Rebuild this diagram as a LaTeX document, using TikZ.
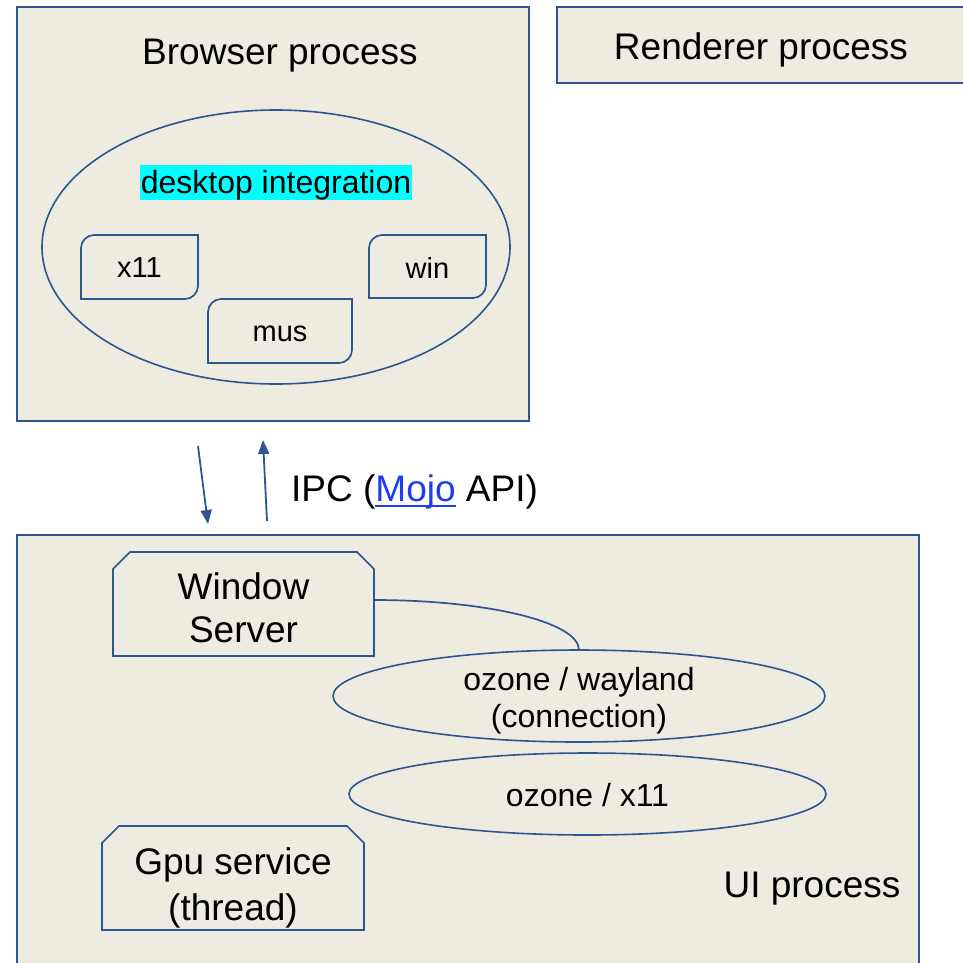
\documentclass[tikz,border=0pt]{standalone}
\usepackage{fontspec}
\setmainfont{Liberation Sans}
\usetikzlibrary{arrows.meta,calc,shapes.geometric}

\definecolor{edge}{HTML}{2E5590}
\definecolor{paper}{HTML}{EEECE1}
\definecolor{linkblue}{HTML}{1E3CF0}
\definecolor{hilite}{HTML}{00FFFF}

\newcommand\fsbig{\fontsize{37}{43}\selectfont}
\newcommand\fsmid{\fontsize{32}{37}\selectfont}
\newcommand\fssmall{\fontsize{29}{34}\selectfont}

% underline that sits just below the baseline, crossing descenders
\newcommand\linkul[1]{\leavevmode\setbox0\hbox{#1}\rlap{\rule[-5pt]{\wd0}{2pt}}\box0}

% rectangle with rounded top-left and bottom-right corners
\newcommand\rdbox[1]{%
  \draw[inner] (#1.south west) -- ($(#1.north west)+(0,13)$)
    .. controls ($(#1.north west)+(0,6)$) and ($(#1.north west)+(6,0)$) .. ($(#1.north west)+(13,0)$)
    -- (#1.north east) -- ($(#1.south east)+(0,-13)$)
    .. controls ($(#1.south east)+(0,-6)$) and ($(#1.south east)+(-6,0)$) .. ($(#1.south east)+(-13,0)$) -- cycle;}

% rectangle with both top corners snipped off
\newcommand\snipbox[1]{%
  \draw[inner] (#1.south west) -- ($(#1.north west)+(0,17)$)
    -- ($(#1.north west)+(17,0)$) -- ($(#1.north east)+(-17,0)$)
    -- ($(#1.north east)+(0,17)$) -- (#1.south east) -- cycle;}

\tikzset{
  procbox/.style={draw=edge, fill=paper, line width=2.6pt, rectangle,
    inner sep=0pt, outer sep=0pt},
  holder/.style={rectangle, fill=paper, inner sep=0pt, outer sep=0pt},
  inner/.style={draw=edge, line width=1.7pt, line join=miter},
  oval/.style={ellipse, draw=edge, line width=1.6pt, inner sep=0pt, outer sep=0pt},
  label/.style={inner sep=0pt, align=center},
  ipc/.style={draw=edge, line width=1.8pt, -{Triangle[length=14pt,width=11pt]}},
  conn/.style={draw=edge, line width=1.7pt},
}

\begin{document}
\begin{tikzpicture}[x=1pt, y=-1pt]
\useasboundingbox (0,0) rectangle (963,962);
\clip (0,0) rectangle (963,962);
\fill[white] (0,0) rectangle (963,962);

% ---------- Browser process ----------
\node[procbox, minimum width=512pt, minimum height=414pt] (browser) at (273,214) {};
\node[label, font=\fsbig] (browsertitle) at (280,56) {Browser process};

\node[oval, minimum width=468pt, minimum height=274pt] (desk) at (276,247) {};
\node[fill=hilite, inner sep=0pt, minimum width=272pt, minimum height=35pt] (desklabel) at (276,182) {};
\node[label, font=\fsmid] (desktext) at ($(desklabel.center)+(0,3)$) {desktop integration};

\node[holder, minimum width=117pt, minimum height=64pt] (x11) at (139.5,267) {};
\rdbox{x11}
\node[label, font=\fssmall] (x11text) at ($(x11.center)+(0,1)$) {x11};
\node[holder, minimum width=144pt, minimum height=64pt] (mus) at (280,331) {};
\rdbox{mus}
\node[label, font=\fssmall] (mustext) at ($(mus.center)+(0,3)$) {mus};
\node[holder, minimum width=117pt, minimum height=63pt] (win) at (427.5,266.5) {};
\rdbox{win}
\node[label, font=\fssmall] (wintext) at ($(win.center)+(0,1)$) {win};

% ---------- Renderer process ----------
\node[procbox, minimum width=410pt, minimum height=76pt] (renderer) at (762,45) {};
\node[label, font=\fsbig] (renderertitle) at (761,50) {Renderer process};

% ---------- UI process ----------
\node[procbox, minimum width=902pt, minimum height=440pt] (ui) at (468,755) {};
\node[label, font=\fsbig] (uititle) at (812,889) {UI process};

\node[holder, minimum width=261pt, minimum height=104pt] (ws) at (243.5,604) {};
\snipbox{ws}
\node[label, font=\fsbig] (wstext) at ($(ws.center)+(0,8.5)$)
  {\begin{tabular}{@{}c@{}}Window\\[0pt]Server\end{tabular}};

\node[holder, minimum width=262pt, minimum height=104pt] (gpu) at (233,878) {};
\snipbox{gpu}
\node[label, font=\fsbig] (gputext) at ($(gpu.center)+(0,11)$)
  {\begin{tabular}{@{}c@{}}Gpu service\\[3pt](thread)\end{tabular}};

\node[oval, fill=paper, minimum width=492pt, minimum height=92pt] (wl) at (579,696) {};
\node[label, font=\fsmid] (wltext) at ($(wl.center)+(0,6)$)
  {\begin{tabular}{@{}c@{}}ozone / wayland\\(connection)\end{tabular}};
\node[oval, fill=paper, minimum width=477pt, minimum height=82pt] (ox) at (587.5,794) {};
\node[label, font=\fsmid] (oxtext) at ($(ox.center)+(0,1)$) {ozone / x11};

% Window Server talks to the wayland connection
\draw[conn] ($(ws.east)+(0,-4)$) .. controls +(113,0) and +(0,-28) .. (wl.north);

% ---------- IPC between browser and UI ----------
\coordinate (downstart) at (198,446);
\coordinate (downend) at (208,524);
\coordinate (upstart) at (267,521);
\coordinate (upend) at (263,440);
\draw[ipc] (downstart) -- (downend);
\draw[ipc] (upstart) -- (upend);
\node[label, font=\fsbig, anchor=west] (ipclabel) at (291,492)
  {IPC (\textcolor{linkblue}{\linkul{Mojo}}\ API)};
\end{tikzpicture}
\end{document}
